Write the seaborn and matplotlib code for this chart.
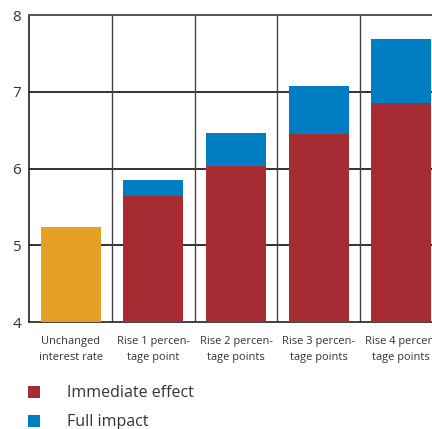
import matplotlib
matplotlib.use("Agg")
import matplotlib.pyplot as plt
from matplotlib.patches import Patch
import seaborn as sns
import pandas as pd

categories = [
    "Unchanged\ninterest rate",
    "Rise 1 percen-\ntage point",
    "Rise 2 percen-\ntage points",
    "Rise 3 percen-\ntage points",
    "Rise 4 percen-\ntage points",
]
immediate_effect = [5.24, 5.65, 6.04, 6.455, 6.855]
full_impact = [5.24, 5.85, 6.465, 7.075, 7.69]
y_ticks = [4, 5, 6, 7, 8]
legend_labels = ["Immediate effect", "Full impact"]

ORANGE = "#E3A024"
RED = "#A72B33"
BLUE = "#007DC3"
TEXT = "#333333"

sns.set_theme(style="white")
plt.rcParams["font.family"] = ["Open Sans", "DejaVu Sans"]

df = pd.DataFrame({
    "category": categories,
    "immediate": immediate_effect,
    "full": full_impact,
})

fig = plt.figure(figsize=(4.32, 4.29), dpi=100)
ax = fig.add_axes([0.0678, 0.2487, 0.957, 0.7163])

# full impact underneath, immediate effect on top of it
sns.barplot(data=df, x="category", y="full", color=BLUE, width=0.726,
            saturation=1, linewidth=0, edgecolor="none", ax=ax, zorder=3)
sns.barplot(data=df, x="category", y="immediate", hue="category",
            palette=[ORANGE, RED, RED, RED, RED], width=0.726,
            saturation=1, linewidth=0, edgecolor="none", legend=False,
            ax=ax, zorder=4)

ax.set_xlim(-0.5, 4.5)
ax.set_ylim(4, 8)
ax.set_yticks(y_ticks)
ax.set_yticklabels([str(t) for t in y_ticks])
ax.set_xlabel("")
ax.set_ylabel("")

# horizontal gridlines at each unit, vertical dividers between categories
for y in y_ticks[1:-1]:
    ax.axhline(y, color="#222222", lw=1.3, zorder=1)
for x in [0.5, 1.5, 2.5, 3.5]:
    ax.axvline(x, color="#444444", lw=1.0, zorder=1)

for side in ["left", "bottom"]:
    ax.spines[side].set_color("#222222")
    ax.spines[side].set_linewidth(1.2)
ax.spines["top"].set_color("#555555")
ax.spines["top"].set_linewidth(1.4)
ax.spines["right"].set_visible(False)

ax.tick_params(axis="y", length=0, pad=6, labelsize=11, labelcolor=TEXT)
ax.tick_params(axis="x", length=0, pad=10, labelsize=7.9, labelcolor=TEXT)
for lbl in ax.get_xticklabels():
    lbl.set_linespacing(1.6)

handles = [Patch(facecolor=RED, edgecolor="none"),
           Patch(facecolor=BLUE, edgecolor="none")]
fig.legend(handles, legend_labels, loc="upper left",
           bbox_to_anchor=(0.065, 0.102), frameon=False,
           fontsize=11.5, labelcolor=TEXT, handlelength=0.75, handleheight=0.75,
           handletextpad=1.66, labelspacing=0.82, borderaxespad=0,
           borderpad=0)

fig.savefig("out.png", dpi=100)
